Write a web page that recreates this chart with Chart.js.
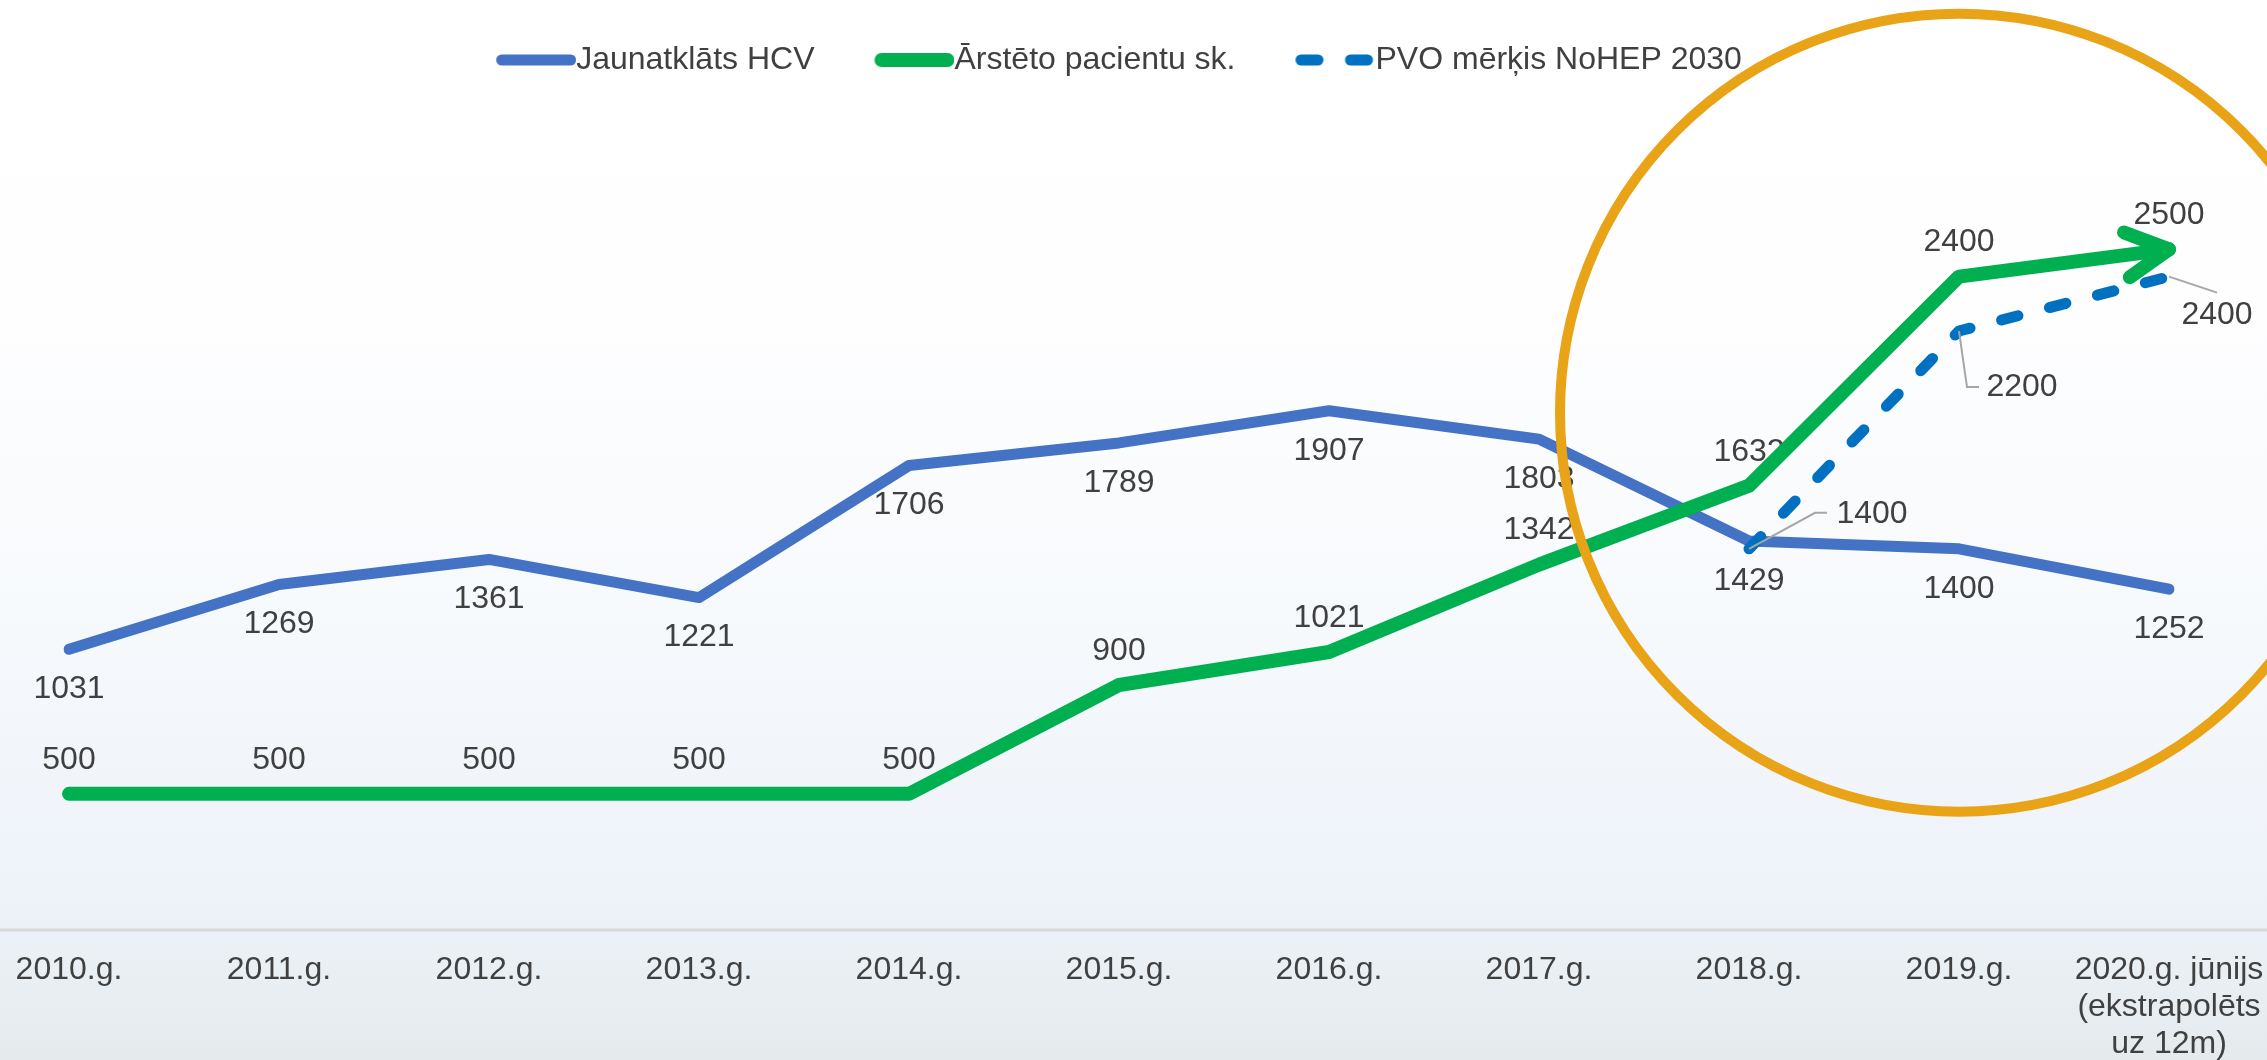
<!DOCTYPE html>
<html lang="lv">
<head>
<meta charset="utf-8">
<title>Jaunatklāts HCV un ārstētie pacienti</title>
<script src="https://cdn.jsdelivr.net/npm/chart.js@4.4.1/dist/chart.umd.min.js"></script>
<style>
  html, body { margin: 0; padding: 0; background: #ffffff; overflow: hidden; }
  #wrap { width: 2267px; height: 1060px; }
</style>
</head>
<body>
<div id="wrap"><canvas id="chart" width="2267" height="1060"></canvas></div>
<script>
const categories = [
  "2010.g.", "2011.g.", "2012.g.", "2013.g.", "2014.g.", "2015.g.",
  "2016.g.", "2017.g.", "2018.g.", "2019.g.",
  ["2020.g. jūnijs", "(ekstrapolēts", "uz 12m)"],
];
const seriesNames = ["Jaunatklāts HCV", "Ārstēto pacientu sk.", "PVO mērķis NoHEP 2030"];
const newlyDiagnosed = [1031, 1269, 1361, 1221, 1706, 1789, 1907, 1803, 1429, 1400, 1252];
const treatedPatients = [500, 500, 500, 500, 500, 900, 1021, 1342, 1632, 2400, 2500];
const whoTarget = [null, null, null, null, null, null, null, null, 1400, 2200, 2400];
const yMin = 0;
const yMax = 3100;

// highlighted region (orange ring): centred on 2019.g. at this value
const ringCenterIndex = 9;
const ringCenterValue = 1900;

const COLORS = {
  hcv: "#4472C4",
  treated: "#00B050",
  target: "#0070C0",
  ring: "#E8A317",
  text: "#404040",
  leader: "#A6A6A6",
  axis: "#D9D9D9",
};
const FONT = '"Liberation Sans", Arial, sans-serif';

// label placement (pixels from the point)
const hcvLabelOffset = 40;
const treatedLabelOffset = -34;
const targetCallouts = [
  null, null, null, null, null, null, null, null,
  { dx: 123, dy: -35, leader: [[66, -36], [78, -36]] },
  { dx: 63, dy: 56, leader: [[8, 56], [20, 56]] },
  { dx: 48, dy: 39, leader: [[48, 16]] },
];

Chart.defaults.font.family = FONT;
Chart.defaults.font.size = 32;
Chart.defaults.color = COLORS.text;

function legendSwatch(dataset) {
  const swatch = document.createElement("canvas");
  swatch.width = 96;
  swatch.height = 20;
  const g = swatch.getContext("2d");
  g.strokeStyle = dataset.borderColor;
  g.lineWidth = dataset.borderWidth;
  g.lineCap = "round";
  g.setLineDash(dataset.borderDash || []);
  g.beginPath();
  g.moveTo(16 + dataset.borderWidth / 2, 10);
  g.lineTo(96 - dataset.borderWidth / 2, 10);
  g.stroke();
  return swatch;
}

const backdropPlugin = {
  id: "backdrop",
  beforeDraw(chart) {
    const { ctx, width, height, chartArea } = chart;
    const grad = ctx.createLinearGradient(0, 0, 0, height);
    grad.addColorStop(0, "#ffffff");
    grad.addColorStop(0.3, "#fefeff");
    grad.addColorStop(0.6, "#f6f9fc");
    grad.addColorStop(0.86, "#edf2f9");
    grad.addColorStop(0.9, "#eaf0f4");
    grad.addColorStop(1, "#e5eaed");
    ctx.save();
    ctx.fillStyle = grad;
    ctx.fillRect(0, 0, width, height);
    ctx.strokeStyle = COLORS.axis;
    ctx.lineWidth = 3;
    ctx.beginPath();
    ctx.moveTo(0, chartArea.bottom);
    ctx.lineTo(width, chartArea.bottom);
    ctx.stroke();
    ctx.restore();
  },
  beforeDatasetsDraw(chart) {
    const { ctx } = chart;
    ctx.save();
    ctx.font = `32px ${FONT}`;
    ctx.fillStyle = COLORS.text;
    ctx.textAlign = "center";
    ctx.textBaseline = "middle";
    chart.getDatasetMeta(0).data.forEach((pt, i) => {
      ctx.fillText(String(newlyDiagnosed[i]), pt.x, pt.y + hcvLabelOffset);
    });
    chart.getDatasetMeta(1).data.forEach((pt, i) => {
      ctx.fillText(String(treatedPatients[i]), pt.x, pt.y + treatedLabelOffset);
    });
    chart.getDatasetMeta(2).data.forEach((pt, i) => {
      const callout = targetCallouts[i];
      if (!callout || whoTarget[i] == null) return;
      ctx.fillText(String(whoTarget[i]), pt.x + callout.dx, pt.y + callout.dy);
    });
    ctx.restore();
  },
  afterDatasetsDraw(chart) {
    const { ctx } = chart;
    ctx.save();
    // leader lines of the target labels
    ctx.strokeStyle = COLORS.leader;
    ctx.lineWidth = 2;
    chart.getDatasetMeta(2).data.forEach((pt, i) => {
      const callout = targetCallouts[i];
      if (!callout || whoTarget[i] == null) return;
      ctx.beginPath();
      ctx.moveTo(pt.x, pt.y);
      callout.leader.forEach(([dx, dy]) => ctx.lineTo(pt.x + dx, pt.y + dy));
      ctx.stroke();
    });
    // open arrow head at the end of the treated line
    const pts = chart.getDatasetMeta(1).data;
    const tip = pts[pts.length - 1];
    const prev = pts[pts.length - 2];
    const back = Math.atan2(prev.y - tip.y, prev.x - tip.x);
    const spread = 28 * Math.PI / 180;
    const arm = 48;
    ctx.strokeStyle = COLORS.treated;
    ctx.lineWidth = 14;
    ctx.lineCap = "round";
    ctx.lineJoin = "round";
    ctx.beginPath();
    ctx.moveTo(tip.x + Math.cos(back + spread) * arm, tip.y + Math.sin(back + spread) * arm);
    ctx.lineTo(tip.x, tip.y);
    ctx.lineTo(tip.x + Math.cos(back - spread) * arm, tip.y + Math.sin(back - spread) * arm);
    ctx.stroke();
    ctx.restore();
  },
  afterDraw(chart) {
    const { ctx, scales } = chart;
    const cx = scales.x.getPixelForValue(ringCenterIndex);
    const cy = scales.y.getPixelForValue(ringCenterValue);
    const r = 1.9 * (scales.x.getPixelForValue(1) - scales.x.getPixelForValue(0));
    ctx.save();
    ctx.strokeStyle = COLORS.ring;
    ctx.lineWidth = 10;
    ctx.beginPath();
    ctx.arc(cx, cy, r, 0, Math.PI * 2);
    ctx.stroke();
    ctx.restore();
  },
};

const chart = new Chart(document.getElementById("chart"), {
  type: "line",
  data: {
    labels: categories,
    datasets: [
      {
        label: seriesNames[0],
        data: newlyDiagnosed,
        borderColor: COLORS.hcv,
        backgroundColor: COLORS.hcv,
        borderWidth: 11,
        order: 3,
      },
      {
        label: seriesNames[1],
        data: treatedPatients,
        borderColor: COLORS.treated,
        backgroundColor: COLORS.treated,
        borderWidth: 14,
        order: 2,
      },
      {
        label: seriesNames[2],
        data: whoTarget,
        borderColor: COLORS.target,
        backgroundColor: COLORS.target,
        borderWidth: 11,
        borderDash: [17, 32.5],
        order: 1,
      },
    ],
  },
  options: {
    responsive: false,
    animation: false,
    events: [],
    devicePixelRatio: 1,
    layout: { padding: { top: -16, left: 69, right: 98, bottom: -24 } },
    elements: {
      line: { tension: 0, borderCapStyle: "round", borderJoinStyle: "round", fill: false },
      point: { radius: 0, hoverRadius: 0 },
    },
    plugins: {
      tooltip: { enabled: false },
      legend: {
        position: "top",
        labels: {
          usePointStyle: true,
          pointStyleWidth: 64,
          padding: 60,
          color: COLORS.text,
          font: { size: 32 },
          sort: (a, b) => a.datasetIndex - b.datasetIndex,
          generateLabels(c) {
            const items = Chart.defaults.plugins.legend.labels.generateLabels(c);
            items.forEach((item) => {
              item.pointStyle = legendSwatch(c.data.datasets[item.datasetIndex]);
            });
            return items;
          },
        },
      },
    },
    scales: {
      x: {
        grid: { display: false, drawTicks: false },
        border: { display: false },
        afterFit(scale) {
          // the side padding comes from layout.padding, not from the label widths
          scale.paddingLeft = 0;
          scale.paddingRight = 0;
        },
        ticks: {
          autoSkip: false,
          maxRotation: 0,
          padding: 21.5,
          color: COLORS.text,
          font: { size: 32, lineHeight: "37px" },
        },
      },
      y: {
        display: false,
        min: yMin,
        max: yMax,
      },
    },
  },
  plugins: [backdropPlugin],
});
</script>
</body>
</html>
